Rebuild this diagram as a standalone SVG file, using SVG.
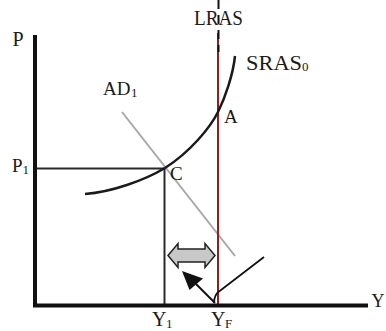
<svg xmlns="http://www.w3.org/2000/svg" width="386" height="331" viewBox="0 0 386 331">
<style>
text{font-family:"Liberation Serif","Times New Roman",serif;fill:#1a1a1a}
.lab{font-size:20px}
.sm{font-size:19px}
.sub{font-size:13px}
.axis{stroke:#111;stroke-width:4;fill:none}
.guide{stroke:#2a2a2a;stroke-width:2;fill:none}
</style>
<rect width="386" height="331" fill="#fff"/>
<g id="connectors">
<line id="p1-line" class="guide" x1="37" y1="168.5" x2="165" y2="168.5"/>
<line id="y1-line" class="guide" x1="164.5" y1="168" x2="164.5" y2="305"/>
<line id="ad1" x1="122" y1="112" x2="235" y2="256" stroke="#a8a8a8" stroke-width="2"/>
<line id="lras" x1="218" y1="33" x2="218" y2="305" stroke="#9e1a1a" stroke-width="2"/>
<line id="lras-dash" x1="218.5" y1="0" x2="218.5" y2="52" stroke="#111" stroke-width="2" stroke-dasharray="9,6"/>
<path id="sras" d="M85,194 C112,192 145,180 165,168 C190,152 210,128 218,112 C225,98 233,75 235,56" fill="none" stroke="#1a1a1a" stroke-width="2.5"/>
<path id="double-arrow" d="M168,255.5 L178,243.5 L178,249 L205,249 L205,243.5 L215,255.5 L205,267.5 L205,262 L178,262 L178,267.5 Z" fill="#c8c8c8" stroke="#222" stroke-width="1.5" stroke-linejoin="miter"/>
<line id="arrow-shaft" x1="215" y1="303" x2="196" y2="284" stroke="#111" stroke-width="2"/>
<polygon id="arrow-head" points="182,271 203,278.5 189.5,290" fill="#111"/>
<path id="curve-line" d="M214,303 Q214,294 221,290 L264,257" fill="none" stroke="#111" stroke-width="1.8"/>
<line id="y-axis" class="axis" x1="35" y1="35" x2="35" y2="307"/>
<line id="x-axis" class="axis" x1="33" y1="305.5" x2="368" y2="305.5"/>
</g>
<g id="labels">
<text id="lbl-p" class="lab" x="12.5" y="46">P</text>
<text id="lbl-lras" class="lab" x="194" y="25" textLength="49" lengthAdjust="spacingAndGlyphs">LRAS</text>
<text id="lbl-sras" class="lab" x="246" y="69.5" textLength="56" lengthAdjust="spacingAndGlyphs">SRAS</text>
<text class="sub" x="302" y="71">0</text>
<text id="lbl-ad" class="sm" x="103" y="94.5">AD</text>
<text class="sub" x="131" y="96.5">1</text>
<text id="lbl-a" class="sm" x="224" y="123">A</text>
<text id="lbl-p1" class="sm" x="12" y="172">P</text>
<text class="sub" x="22.5" y="173.5">1</text>
<text id="lbl-c" class="sm" x="170" y="179.5">C</text>
<text id="lbl-y1" class="lab" x="152" y="326">Y</text>
<text class="sub" x="166" y="328">1</text>
<text id="lbl-yf" class="lab" x="211" y="326">Y</text>
<text class="sub" x="225" y="328">F</text>
<text id="lbl-y" x="371.5" y="307" style="font-size:18px">Y</text>
</g>
</svg>
